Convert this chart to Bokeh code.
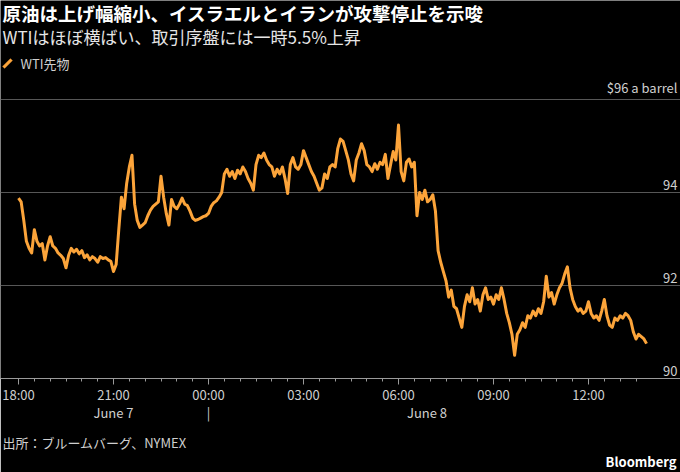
from bokeh.plotting import figure
from bokeh.models import Range1d, FixedTicker, LinearAxis, Label, Grid, Title, PolyAnnotation
from bokeh.embed import file_html
from bokeh.resources import INLINE
from bokeh.core.properties import value

# ---------------- data ----------------
title_text = "原油は上げ幅縮小、イスラエルとイランが攻撃停止を示唆"
subtitle_text = "WTIはほぼ横ばい、取引序盤には一時5.5%上昇"
series_name = "WTI先物"
source_text = "出所：ブルームバーグ、NYMEX"
brand_text = "Bloomberg"

step_minutes = 5  # sampling interval of the series, starting 18:00 (June 7)

wti_prices = [
    93.88, 93.80, 93.40, 92.95, 92.80, 92.70, 93.20, 92.95, 92.85, 92.90,
    92.55, 92.85, 93.05, 92.85, 92.80, 92.70, 92.65, 92.58, 92.38, 92.65,
    92.80, 92.72, 92.78, 92.68, 92.75, 92.60, 92.66, 92.55, 92.62, 92.58,
    92.50, 92.62, 92.58, 92.60, 92.55, 92.52, 92.30, 92.45, 93.20, 93.90,
    93.65, 94.20, 94.55, 94.80, 93.75, 93.40, 93.25, 93.30, 93.35, 93.50,
    93.62, 93.70, 93.75, 93.80, 94.35, 93.90, 93.55, 93.30, 93.85, 93.70,
    93.65, 93.75, 93.88, 93.75, 93.72, 93.60, 93.45, 93.40, 93.42, 93.45,
    93.48, 93.50, 93.55, 93.70, 93.78, 93.82, 93.90, 94.00, 94.40, 94.50,
    94.35, 94.45, 94.30, 94.48, 94.40, 94.55, 94.45, 94.30, 94.20, 94.05,
    94.60, 94.80, 94.75, 94.85, 94.70, 94.60, 94.55, 94.35, 94.50, 94.40,
    94.55, 94.30, 93.98, 94.60, 94.75, 94.55, 94.50, 94.60, 94.90, 94.75,
    94.60, 94.45, 94.35, 94.20, 94.05, 94.10, 94.40, 94.30, 94.55, 94.60,
    94.55, 94.95, 95.15, 95.10, 94.90, 94.70, 94.40, 94.25, 94.70, 94.85,
    95.05, 94.90, 94.60, 94.55, 94.45, 94.62, 94.50, 94.65, 94.60, 94.82,
    94.30, 94.60, 94.88, 94.70, 95.45, 94.45, 94.25, 94.65, 94.72, 94.55,
    94.65, 93.50, 94.00, 93.85, 94.05, 93.80, 93.85, 93.95, 93.60, 92.75,
    92.50, 92.30, 92.10, 91.75, 91.90, 91.55, 91.50, 91.30, 91.10, 91.55,
    91.80, 91.65, 91.95, 91.60, 91.70, 91.45, 91.80, 91.95, 91.70, 91.75,
    91.60, 91.80, 91.70, 91.95, 91.70, 91.40, 91.20, 90.95, 90.50, 90.95,
    91.05, 91.20, 91.10, 91.35, 91.30, 91.45, 91.35, 91.50, 91.40, 91.65,
    92.20, 91.75, 91.85, 91.60, 91.80, 91.95, 92.05, 92.25, 92.40, 91.95,
    91.70, 91.55, 91.45, 91.50, 91.40, 91.45, 91.65, 91.40, 91.30, 91.35,
    91.25, 91.45, 91.70, 91.35, 91.15, 91.10, 91.30, 91.25, 91.35, 91.30,
    91.40, 91.35, 91.25, 91.00, 90.85, 90.95, 90.90, 90.85, 90.75,
]
# hours elapsed since 18:00 for each sample
hours = [i * step_minutes / 60 for i in range(len(wti_prices))]

x_ticks = [0, 3, 6, 9, 12, 15, 18]
x_tick_labels = ["18:00", "21:00", "00:00", "03:00", "06:00", "09:00", "12:00"]
x_minor_ticks = [0.5 * k for k in range(40)]
date_ticks = [3, 6, 12.9]
date_labels = ["June 7", "|", "June 8"]
y_ticks = [90, 92, 94, 96]
y_tick_labels = ["90", "92", "94", "$96 a barrel"]
grid_ticks = [92, 94, 96]

# ---------------- styling ----------------
FONT = "Noto Sans CJK JP"
BG = "#000000"
LINE = "#fca43a"
TEXT = "#cfcfcf"
GRID = "#575757"
AXIS = "#9a9a9a"

W, H = 680, 472
FRAME_H = 378
x_start = -18 / (95 / 3)
x_end = x_start + W / (95 / 3)
y_start, y_end = 90, 90 + FRAME_H / 46.5

p = figure(
    width=W, height=H, output_backend="svg", toolbar_location=None,
    x_range=Range1d(x_start, x_end), y_range=Range1d(y_start, y_end),
    x_axis_location=None, y_axis_location=None, title_location=None,
    background_fill_color=BG, border_fill_color=BG,
    min_border_left=0, min_border_right=0, min_border_top=0,
    min_border_bottom=H - FRAME_H,
)
p.outline_line_color = None
p.xgrid.visible = False
p.ygrid.visible = False

p.add_layout(Grid(dimension=1, ticker=FixedTicker(ticks=grid_ticks),
                  grid_line_color=GRID, grid_line_width=1))

xaxis = LinearAxis(
    ticker=FixedTicker(ticks=x_ticks, minor_ticks=x_minor_ticks),
    major_label_overrides=dict(zip(x_ticks, x_tick_labels)),
    axis_line_color=AXIS, major_tick_line_color=AXIS, minor_tick_line_color=AXIS,
    major_tick_in=0, major_tick_out=6, minor_tick_in=0, minor_tick_out=3,
    major_label_standoff=0,
    major_label_text_color=TEXT, major_label_text_font=FONT,
    major_label_text_font_size="13px",
)
p.add_layout(xaxis, "below")

date_axis = LinearAxis(
    ticker=FixedTicker(ticks=date_ticks, minor_ticks=[]),
    major_label_overrides=dict(zip(date_ticks, date_labels)),
    axis_line_color=None, major_tick_line_color=None, minor_tick_line_color=None,
    major_tick_in=0, major_tick_out=0, minor_tick_in=0, minor_tick_out=0,
    major_label_standoff=-4,
    major_label_text_color=TEXT, major_label_text_font=FONT,
    major_label_text_font_size="13px",
)
p.add_layout(date_axis, "below")

p.add_layout(Title(text=source_text, align="left", text_font=FONT,
                   text_font_size="13px", text_color=TEXT,
                   text_font_style="normal", standoff=12, offset=2), "below")
p.add_layout(Title(text=brand_text, align="right", text_font=FONT,
                   text_font_size="13px", text_color="#ffffff",
                   text_font_style="bold", standoff=-16, offset=4), "below")

p.line(hours, wti_prices, line_color=LINE, line_width=3, line_join="round")

p.text(x=[x_end] * len(y_ticks), y=y_ticks, text=y_tick_labels,
       text_align="right", text_baseline="bottom", x_offset=-3, y_offset=-3,
       text_font=value(FONT), text_font_size="13px", text_color=TEXT)

# texts placed in screen units (relative to frame bottom-left)
def add_label(txt, x, y, size, color, style="normal"):
    p.add_layout(Label(x=x, y=y, x_units="screen", y_units="screen", text=txt,
                       text_font=FONT, text_font_size=size, text_color=color,
                       text_font_style=style, text_align="left",
                       text_baseline="middle"))

add_label(title_text, 2, FRAME_H - 12, "18.5px", "#ffffff", style="bold")
add_label(subtitle_text, 2, FRAME_H - 36, "17px", "#e6e6e6")
add_label(series_name, 20, FRAME_H - 63, "13px", TEXT)

# legend key: short diagonal stroke in the series colour
p.add_layout(PolyAnnotation(
    xs=[4.1, 1.9, 9.9, 12.1],
    ys=[FRAME_H - 68.1, FRAME_H - 65.9, FRAME_H - 57.9, FRAME_H - 60.1],
    xs_units="screen", ys_units="screen",
    fill_color=LINE, fill_alpha=1, line_color=LINE, line_width=0.5))

open("out.html", "w").write(file_html(p, INLINE))
